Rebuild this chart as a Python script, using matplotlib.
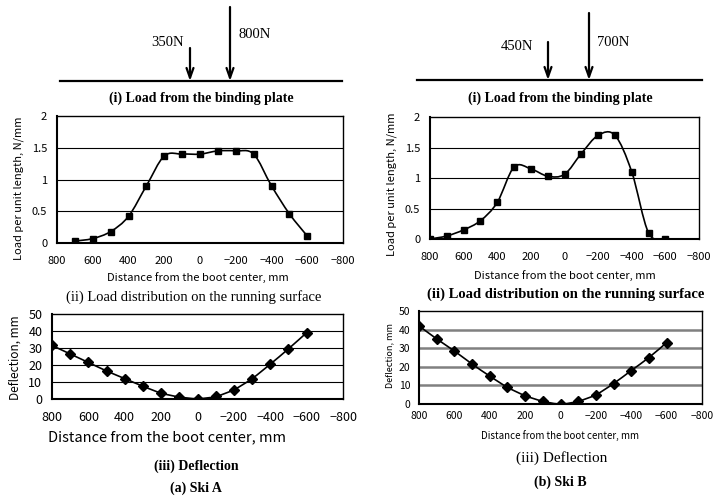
import numpy as np
import matplotlib.pyplot as plt
from matplotlib.path import Path
from matplotlib.patches import PathPatch

# distance from the boot center, mm
pos_a = [700, 600, 500, 400, 300, 200, 100, 0, -100, -200, -300, -400, -500, -600]
load_a = [0.03, 0.07, 0.18, 0.42, 0.90, 1.37, 1.40, 1.40, 1.45, 1.45, 1.40, 0.90, 0.46, 0.11]
pos_b = [800, 700, 600, 500, 400, 300, 200, 100, 0, -100, -200, -300, -400, -500, -600]
load_b = [0.0, 0.05, 0.15, 0.30, 0.60, 1.18, 1.15, 1.03, 1.06, 1.40, 1.70, 1.70, 1.10, 0.10, 0.0]
defl_pos = [800, 700, 600, 500, 400, 300, 200, 100, 0, -100, -200, -300, -400, -500, -600]
defl_a = [31.5, 26.5, 21.5, 16.5, 12.0, 7.5, 3.5, 1.2, 0.2, 1.5, 5.5, 12.0, 20.5, 29.5, 39.0]
defl_b = [42.0, 35.0, 28.5, 21.5, 15.0, 9.0, 4.5, 1.5, 0.0, 1.5, 5.0, 11.0, 18.0, 25.0, 33.0]
loads_a = ['350N', '800N']
loads_b = ['450N', '700N']
xticks = [800, 600, 400, 200, 0, -200, -400, -600, -800]
load_ticks = [0, 0.5, 1, 1.5, 2]
defl_ticks = [0, 10, 20, 30, 40, 50]
xlab = 'Distance from the boot center, mm'

GOTH = ['Noto Sans CJK JP', 'DejaVu Sans']
SERIF = 'Liberation Serif'

W, H = 714, 496
fig = plt.figure(figsize=(W / 100, H / 100), dpi=100)

# overlay in pixel coordinates for the diagrams, captions and axis titles
ov = fig.add_axes([0, 0, 1, 1])
ov.set_xlim(0, W)
ov.set_ylim(H, 0)
ov.axis('off')


def box(l, t, r, b):
    return [l / W, 1 - b / H, (r - l) / W, (b - t) / H]


def smooth(ax, x, y, **kw):
    # Excel style smoothed line, bezier segments through the data points
    x = np.asarray(x, float)
    y = np.asarray(y, float)
    verts = [(x[0], y[0])]
    codes = [Path.MOVETO]
    n = len(x)
    for i in range(n - 1):
        p0 = np.array([x[max(i - 1, 0)], y[max(i - 1, 0)]])
        p1 = np.array([x[i], y[i]])
        p2 = np.array([x[i + 1], y[i + 1]])
        p3 = np.array([x[min(i + 2, n - 1)], y[min(i + 2, n - 1)]])
        c1 = p1 + (p2 - p0) / 6
        c2 = p2 - (p3 - p1) / 6
        verts += [tuple(c1), tuple(c2), tuple(p2)]
        codes += [Path.CURVE4] * 3
    ax.add_patch(PathPatch(Path(verts, codes), fill=False, **kw))


def panel(px, x, y, marker, yticks, fs, xpad, ypad, gridc='black', gridw=0.8):
    ax = fig.add_axes(box(*px))
    for yy in yticks[1:-1]:
        ax.axhline(yy, color=gridc, lw=gridw, zorder=1)
    smooth(ax, x, y, color='black', lw=1.2, zorder=2)
    ax.plot(x, y, ls='none', marker=marker, ms=5, color='black', zorder=3)
    ax.set_xlim(800, -800)
    ax.set_ylim(yticks[0], yticks[-1])
    ax.set_xticks(xticks)
    ax.set_yticks(yticks)
    ax.set_xticklabels([str(v).replace('-', '\u2212') for v in xticks], family=GOTH, fontsize=fs)
    ax.set_yticklabels([('%g' % v) for v in yticks], family=GOTH, fontsize=fs)
    ax.tick_params(axis='x', length=0, pad=xpad)
    ax.tick_params(axis='y', length=0, pad=ypad)
    for s in ax.spines.values():
        s.set_linewidth(1.0)
    ax.spines['bottom'].set_linewidth(1.5)
    ax.spines['left'].set_linewidth(1.5)
    return ax


panel((57, 116, 343, 243), pos_a, load_a, 's', load_ticks, 8, 9.5, 7)
panel((430, 117, 699, 239), pos_b, load_b, 's', load_ticks, 8, 9.5, 7)
panel((52, 314, 343, 399), defl_pos, defl_a, 'D', defl_ticks, 9, 8.5, 7)
panel((419, 311, 702, 404), defl_pos, defl_b, 'D', defl_ticks, 7.5, 5, 6,
      gridc='#808080', gridw=1.8)

# axis titles
ov.text(198, 278, xlab, family=GOTH, fontsize=8, ha='center', va='center')
ov.text(565, 276, xlab, family=GOTH, fontsize=8, ha='center', va='center')
ov.text(167, 437, xlab, family=GOTH, fontsize=10.5, ha='center', va='center')
ov.text(560, 436, xlab, family=GOTH, fontsize=7, ha='center', va='center')
ov.text(19, 188, 'Load per unit length, N/mm', family=GOTH, fontsize=8,
        rotation=90, ha='center', va='center')
ov.text(392, 184, 'Load per unit length, N/mm', family=GOTH, fontsize=8,
        rotation=90, ha='center', va='center')
ov.text(15, 358, 'Deflection, mm', family=GOTH, fontsize=8.5,
        rotation=90, ha='center', va='center')
ov.text(390, 356, 'Deflection, mm', family=GOTH, fontsize=6.5,
        rotation=90, ha='center', va='center')


def diagram(x0, x1, yl, arrows, labels, label_pos):
    ov.plot([x0, x1], [yl, yl], color='black', lw=1.6)
    for (ax_, top), lab, (lx, ly) in zip(arrows, labels, label_pos):
        ov.annotate('', xy=(ax_, yl), xytext=(ax_, top),
                    arrowprops=dict(arrowstyle='->,head_length=0.7,head_width=0.25', lw=1.6,
                                    color='black', shrinkA=0, shrinkB=0))
        ov.text(lx, ly, lab, family=SERIF, fontsize=10.5, ha='center', va='center')


diagram(60, 342, 81, [(190, 48), (230, 7)], loads_a, [(168, 42), (255, 35)])
diagram(417, 702, 80, [(548, 42), (589, 13)], loads_b, [(517, 47), (613, 42)])

cap = dict(family=SERIF, fontsize=10, ha='center', va='center')
ov.text(201, 98, '(i) Load from the binding plate', weight='bold', **cap)
ov.text(560, 98, '(i) Load from the binding plate', weight='bold', **cap)
ov.text(194, 297, '(ii) Load distribution on the running surface', **dict(cap, fontsize=10.5))
ov.text(566, 294, '(ii) Load distribution on the running surface', weight='bold',
        **dict(cap, fontsize=10.5))
ov.text(196, 466, '(iii) Deflection', weight='bold', **cap)
ov.text(196, 488, '(a) Ski A', weight='bold', **cap)
ov.text(562, 458, '(iii) Deflection', **dict(cap, fontsize=11))
ov.text(560, 482, '(b) Ski B', weight='bold', **cap)

fig.savefig('out.png', dpi=100)
